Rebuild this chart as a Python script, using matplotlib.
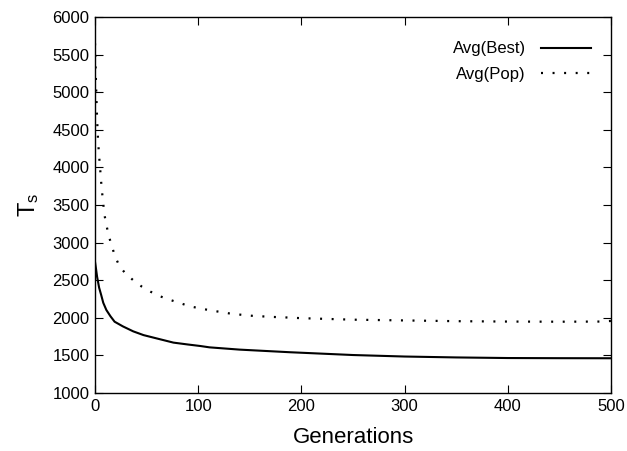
import matplotlib
matplotlib.use("Agg")
import matplotlib.pyplot as plt

plt.rcParams['font.family'] = ['Liberation Sans', 'DejaVu Sans']
plt.rcParams['mathtext.default'] = 'regular'

best_gen = [0, 1, 2, 4, 6, 8, 11, 15, 19, 27, 37, 47, 60, 76, 90, 102, 111, 140, 189, 250, 300, 350, 400, 450, 500]
best_val = [2746, 2650, 2548, 2400, 2303, 2200, 2104, 2020, 1948, 1886, 1820, 1770, 1725, 1670, 1645, 1625, 1607, 1577, 1542, 1505, 1485, 1473, 1465, 1463, 1462]

pop_gen = [0, 1, 2, 3, 4, 5, 6, 7, 8, 9, 11, 13, 16, 19, 23, 29, 37, 45, 54, 63, 73, 83, 92, 102, 112, 122, 132, 142, 152, 162, 173, 183, 200, 250, 300, 350, 400, 450, 490, 500]
pop_val = [5650, 5100, 4650, 4350, 4150, 3980, 3800, 3650, 3520, 3380, 3240, 3105, 2968, 2835, 2706, 2596, 2500, 2418, 2346, 2286, 2237, 2193, 2152, 2125, 2098, 2077, 2054, 2040, 2027, 2019, 2011, 2006, 1995, 1975, 1965, 1955, 1950, 1948, 1950, 1958]

x_ticks = [0, 100, 200, 300, 400, 500]
y_ticks = [1000, 1500, 2000, 2500, 3000, 3500, 4000, 4500, 5000, 5500, 6000]

fig = plt.figure(figsize=(6.27, 4.51), dpi=100)
ax = fig.add_axes([95/627, 58/451, 516/627, 376/451])

ax.plot(best_gen, best_val, color='black', lw=1.5, label='Avg(Best)')
ax.plot(pop_gen, pop_val, color='black', lw=1.6, linestyle=(0, (0.9, 4.3)), label='Avg(Pop)')

ax.set_xlim(0, 500)
ax.set_ylim(1000, 6000)
ax.set_xticks(x_ticks)
ax.set_yticks(y_ticks)
ax.tick_params(direction='in', top=True, right=True, length=6, width=0.8, labelsize=12, pad=4)
for s in ax.spines.values():
    s.set_linewidth(1.0)

ax.set_xlabel('Generations', fontsize=16, labelpad=10)
ax.set_ylabel('T$_s$', fontsize=17, labelpad=8)

leg = ax.legend(loc='upper right', bbox_to_anchor=(0.99, 0.975), frameon=False,
                markerfirst=False, fontsize=12, handlelength=3.0, handletextpad=0.9,
                labelspacing=0.65)
for t in leg.get_texts():
    t.set_ha('right')

fig.savefig('out.png', dpi=100)
